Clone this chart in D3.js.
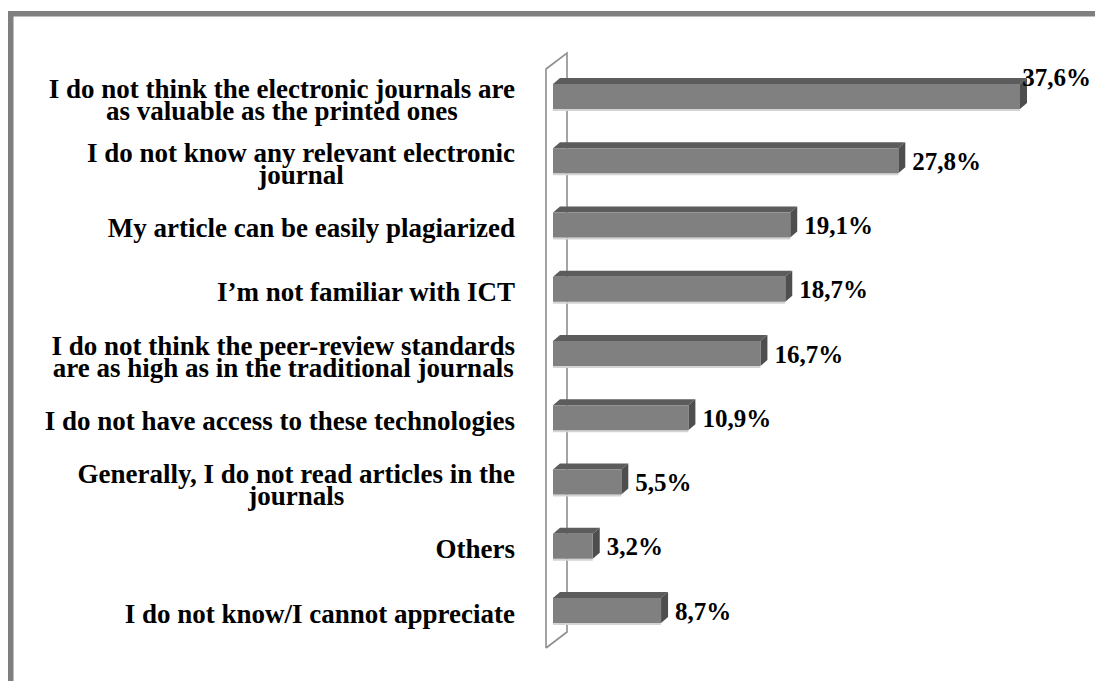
<!DOCTYPE html>
<html>
<head>
<meta charset="utf-8">
<script src="https://cdn.jsdelivr.net/npm/d3@7"></script>
<style>
  html, body { margin: 0; padding: 0; background: #ffffff; }
  svg { display: block; }
</style>
</head>
<body>
<svg id="chart" width="1095" height="681"></svg>
<script>
// ---- data ----
const categories = [
  ["I do not think the electronic journals are", "as valuable as the printed ones"],
  ["I do not know any relevant electronic", "journal"],
  ["My article can be easily plagiarized"],
  ["I\u2019m not familiar with ICT"],
  ["I do not think the peer-review standards", "are as high as in the traditional journals"],
  ["I do not have access to these technologies"],
  ["Generally, I do not read articles in the", "journals"],
  ["Others"],
  ["I do not know/I cannot appreciate"]
];
const values = [37.6, 27.8, 19.1, 18.7, 16.7, 10.9, 5.5, 3.2, 8.7];
const valueLabels = ["37,6%", "27,8%", "19,1%", "18,7%", "16,7%", "10,9%", "5,5%", "3,2%", "8,7%"];

// ---- layout ----
const W = 1095, H = 681;
const svg = d3.select("#chart");
const font = "'Liberation Serif', 'Times New Roman', Times, serif";

const x = d3.scaleLinear().domain([0, 37.6]).range([553, 1020]);
const idx = d3.range(categories.length);
const y = d3.scalePoint().domain(idx).range([96.5, 610.5]);
const barH = 25, dx = 7, dy = 6;

// frame
svg.append("rect").attr("x", 0).attr("y", 0).attr("width", W).attr("height", H).attr("fill", "#ffffff");
svg.append("rect").attr("x", 8).attr("y", 11).attr("width", W - 8).attr("height", 5.5).attr("fill", "#7f7f7f");
svg.append("rect").attr("x", 8).attr("y", 11).attr("width", 5.5).attr("height", H - 11).attr("fill", "#7f7f7f");

// back wall (3D axis)
const x0 = x(0);
const wallTop = y(0) - barH / 2 - 15;
const wallBot = y(idx[idx.length - 1]) + barH / 2 + 25;
const wd = 2 * dx + 7, wv = 16;
const wall = svg.append("g").attr("fill", "none").attr("stroke", "#8e8e8e").attr("stroke-width", 1.6);
wall.append("path").attr("d",
  `M${x0 - dx},${wallBot} L${x0 - dx},${wallTop} L${x0 - dx + wd},${wallTop - wv} L${x0 - dx + wd},${wallBot - wv} L${x0 - dx},${wallBot}`);

// bars
const bars = svg.append("g");
idx.forEach(i => {
  const v = values[i];
  const top = y(i) - barH / 2;
  const xr = x(v);
  const g = bars.append("g");
  g.append("rect").attr("x", x0).attr("y", top + barH).attr("width", xr - x0).attr("height", 2).attr("fill", "#d4d4d4");
  g.append("path").attr("d",
    `M${x0},${top} L${x0 + dx},${top - dy} L${xr + dx},${top - dy} L${xr},${top} Z`).attr("fill", "#5c5c5c");
  g.append("path").attr("d",
    `M${xr},${top} L${xr + dx},${top - dy} L${xr + dx},${top + barH - dy} L${xr},${top + barH} Z`).attr("fill", "#4e4e4e");
  g.append("rect").attr("x", x0).attr("y", top).attr("width", xr - x0).attr("height", barH).attr("fill", "#808080");
});

// value labels
const vl = svg.append("g").attr("font-family", font).attr("font-weight", "bold").attr("font-size", 25).attr("fill", "#000");
idx.forEach(i => {
  const t = vl.append("text").text(valueLabels[i]);
  let tx = x(values[i]) + dx + 7;
  let ty = y(i) + 9;
  const w = t.node().getComputedTextLength();
  if (tx + w > W - 3) { tx = W - 4 - w; ty = y(i) - barH / 2 + 2; }
  t.attr("x", tx).attr("y", ty);
});

// category labels
const cl = svg.append("g").attr("font-family", font).attr("font-weight", "bold").attr("font-size", 27).attr("fill", "#000");
const rightEdge = 515, lineH = 22;
idx.forEach(i => {
  const lines = categories[i];
  const g = cl.append("g");
  const texts = lines.map(s => g.append("text").text(s).attr("text-anchor", "middle"));
  const bw = d3.max(texts, t => t.node().getComputedTextLength());
  const cx = rightEdge - bw / 2;
  const n = lines.length;
  texts.forEach((t, k) => {
    t.attr("x", cx).attr("y", y(i) + 12 + (k - (n - 1) / 2) * lineH);
  });
});
</script>
</body>
</html>
